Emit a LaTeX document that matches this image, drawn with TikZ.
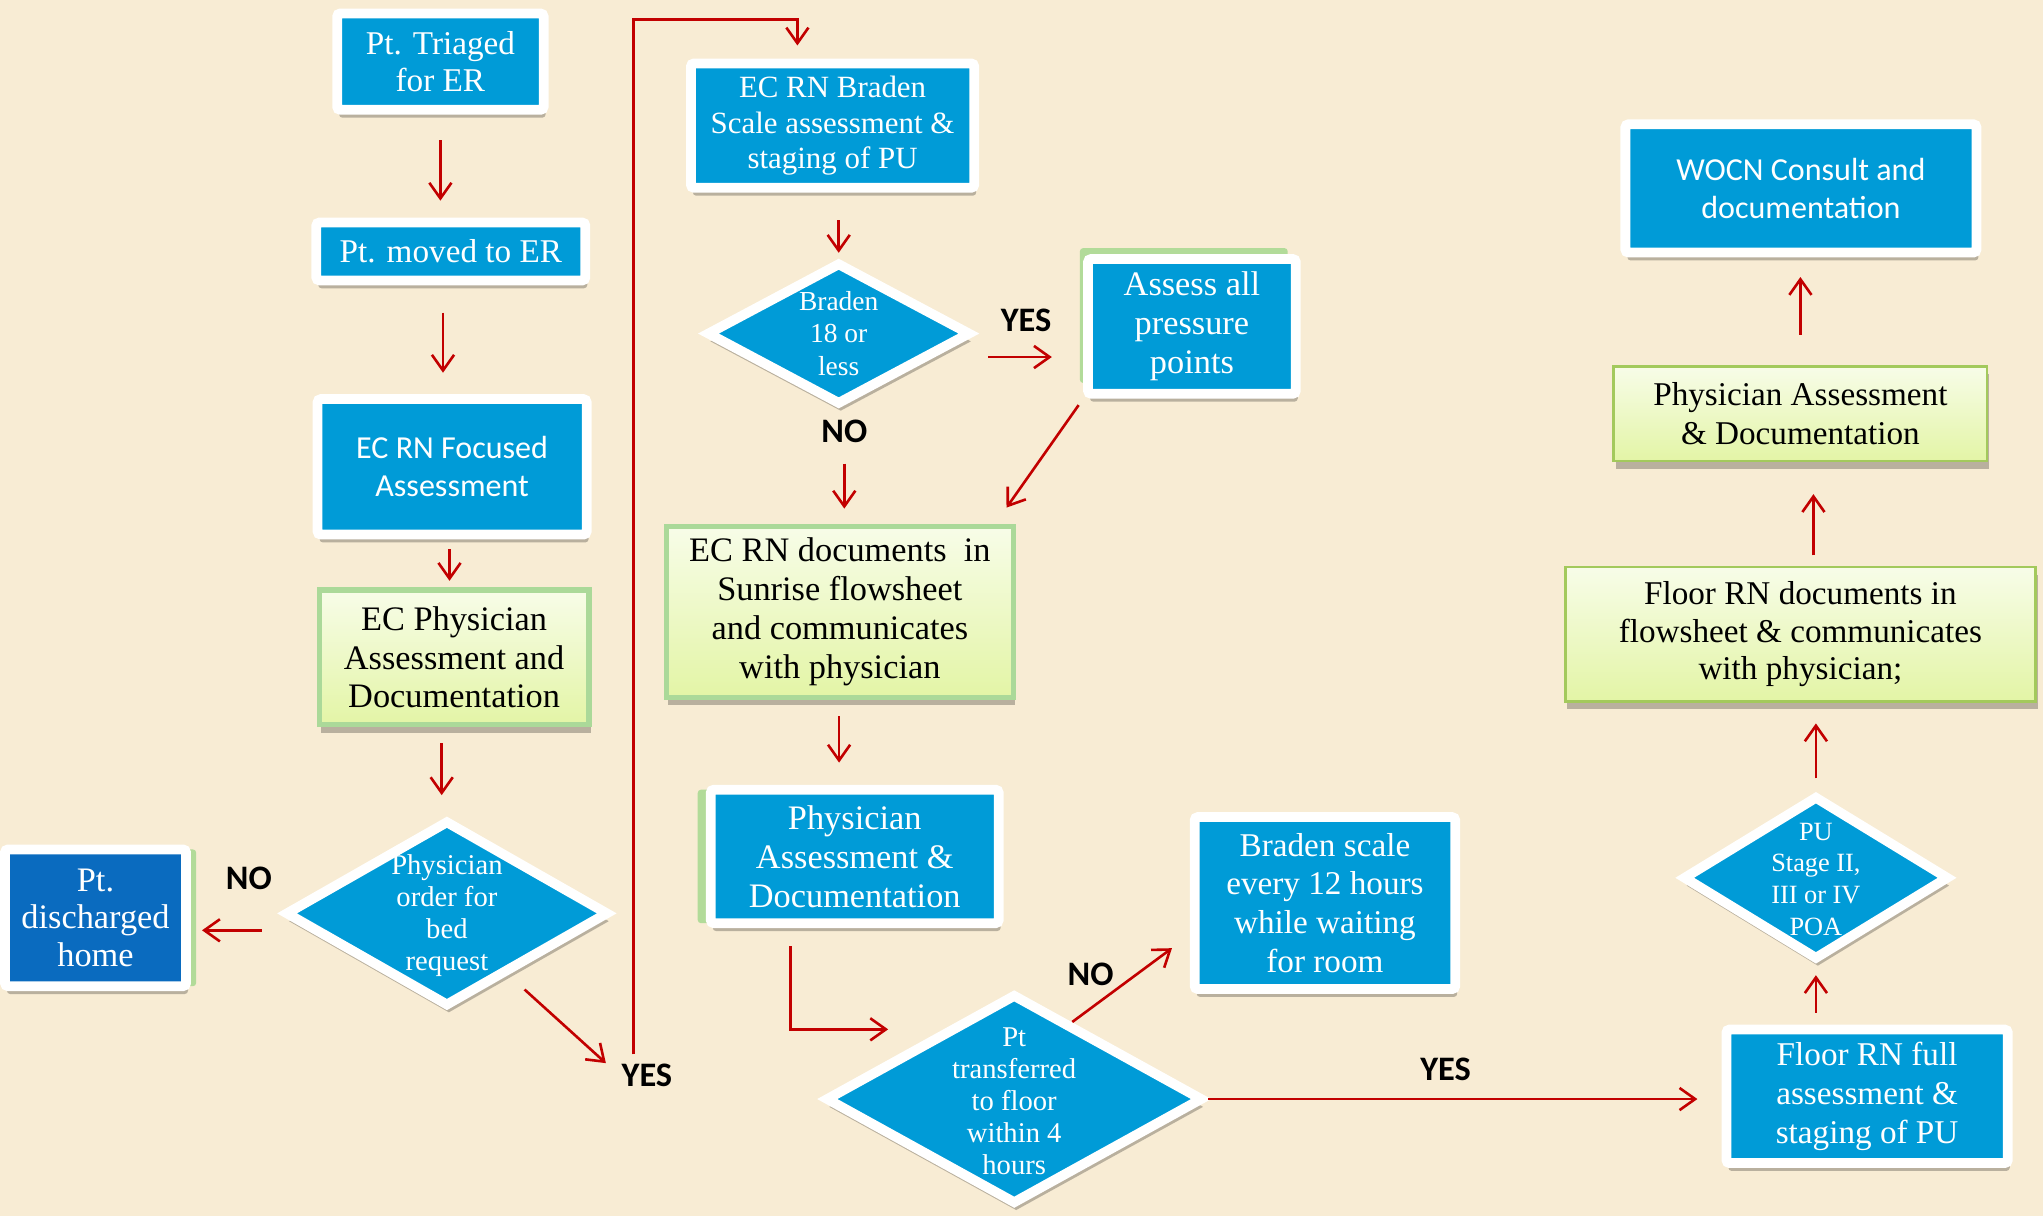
\documentclass[tikz,border=0pt]{standalone}
\usepackage{fontspec}
\setmainfont{Liberation Serif}
\newfontfamily\calibfont{Carlito}
\usepackage{xcolor}
\definecolor{parchment}{rgb}{0.973, 0.925, 0.831}
\definecolor{boxBlue}{rgb}{0.0, 0.608, 0.843}
\definecolor{deepBlue}{rgb}{0.04, 0.42, 0.75}
\definecolor{arrowRed}{rgb}{0.76, 0.0, 0.0}
\definecolor{mintGreen}{rgb}{0.67, 0.85, 0.60}
\definecolor{oliveGreen}{rgb}{0.64, 0.79, 0.36}
\definecolor{backGreen}{rgb}{0.70, 0.86, 0.60}
\definecolor{paleGreen}{rgb}{0.97, 0.99, 0.91}
\definecolor{limeGreen}{rgb}{0.89, 0.96, 0.65}
\usetikzlibrary{shapes.geometric, shadows, arrows.meta}

\tikzset{
  >={Straight Barb[length=2.4mm, width=3.4mm]},
  flow/.style={->, draw=arrowRed, line width=0.4mm},
  greyshadow/.style={general shadow={fill=black, opacity=0.25, shadow xshift=0.3mm, shadow yshift=-1.2mm}},
  sidegreen/.style 2 args={general shadow={fill=backGreen, shadow xshift=#1, shadow yshift=#2}},
  bluebox/.style={draw=white, line width=1.5mm, fill=boxBlue, text=white, align=center,
    inner sep=0pt, rounded corners=0.5mm, greyshadow},
  greenbox/.style={draw=mintGreen, line width=0.8mm, top color=paleGreen, bottom color=limeGreen,
    align=center, inner sep=0pt, greyshadow},
  limebox/.style={greenbox, draw=oliveGreen, line width=0.4mm},
  decision/.style={diamond, draw=white, line width=1.5mm, fill=boxBlue, inner sep=0pt, greyshadow},
  decisiontext/.style={text=white, align=center, inner sep=0pt},
  answer/.style={font=\calibfont\bfseries\fontsize{15}{15}\selectfont, inner sep=1pt}
}

\begin{document}
\begin{tikzpicture}[x=0.2mm, y=-0.2mm]
	\useasboundingbox (0,0) rectangle (1568,933);
	\fill[parchment] (0,0) rectangle (1568,933);

	% ER arrival column
	\node[bluebox, minimum width=31.7mm, minimum height=14.8mm, font=\fontsize{14.5}{16.5}\selectfont] (triaged) at (338,47.3) {Pt. Triaged\\for ER};
	\node[bluebox, minimum width=41.3mm, minimum height=8.9mm, font=\fontsize{14.5}{16.5}\selectfont] (moved) at (346,193) {Pt. moved to ER};
	\node[bluebox, minimum width=41.3mm, minimum height=20.8mm, font=\calibfont\fontsize{14}{16.5}\selectfont] (focused) at (347,358.3) {EC RN Focused\\Assessment};
	\node[greenbox, minimum width=41.4mm, minimum height=20.7mm, font=\fontsize{15}{16.8}\selectfont] (ecphys) at (348.5,504.5) {EC Physician\\Assessment and\\Documentation};
	\node[decision, minimum width=49.7mm, minimum height=28.6mm] (order) at (343,701) {};
	\node[decisiontext, font=\fontsize{12.5}{14}\selectfont] (ordertxt) at ([yshift=-0.4mm]order.center) {Physician\\order for\\bed\\request};
	\node[bluebox, fill=deepBlue, sidegreen={1.55mm}{0mm}, minimum width=27.8mm, minimum height=21mm, font=\fontsize{15}{16.5}\selectfont] (discharged) at (73.3,704.4) {Pt.\\discharged\\home};

	% answers
	\node[answer] (no1) at (191,674.4) {NO};
	\node[answer] (yes1) at (496.5,825) {YES};
	\node[answer] (yes2) at (787.5,246) {YES};
	\node[answer] (no2) at (648,331) {NO};
	\node[answer] (no3) at (837,747.7) {NO};
	\node[answer] (yes3) at (1109.5,821) {YES};

	% Braden column
	\node[bluebox, minimum width=43.5mm, minimum height=19.1mm, font=\fontsize{13.5}{15.4}\selectfont] (braden) at (639,96.4) {EC RN Braden\\Scale assessment \&\\staging of PU};
	\node[decision, minimum width=40.6mm, minimum height=21.9mm] (bradendia) at (643.7,256) {};
	\node[decisiontext, font=\fontsize{12}{14.2}\selectfont] (bradentxt) at (bradendia.center) {Braden\\18 or\\less};
	\node[bluebox, sidegreen={-1.25mm}{1.67mm}, minimum width=31.9mm, minimum height=20.7mm, font=\fontsize{15}{17}\selectfont] (assess) at (914.8,250.5) {Assess all\\pressure\\points};
	\node[greenbox, minimum width=53.3mm, minimum height=26.3mm, font=\fontsize{15}{17}\selectfont] (ecrndocs) at (644.6,469.6) {EC RN documents\ \ in\\Sunrise flowsheet\\and communicates\\with physician};
	\node[bluebox, sidegreen={-2mm}{0mm}, minimum width=44.2mm, minimum height=20.5mm, font=\fontsize{15}{17}\selectfont] (physassess) at (656,657.3) {Physician\\Assessment \&\\Documentation};
	\node[bluebox, minimum width=40mm, minimum height=26.4mm, font=\fontsize{14.5}{17}\selectfont] (bradenscale) at (1016.9,693.1) {Braden scale\\every 12 hours\\while waiting\\for room};
	\node[decision, minimum width=58mm, minimum height=32.3mm] (transferred) at (778.4,843.5) {};
	\node[decisiontext, font=\fontsize{12.5}{14}\selectfont] (transtxt) at ([yshift=-0.4mm]transferred.center) {Pt\\transferred\\to floor\\within 4\\hours};

	% Floor column
	\node[bluebox, minimum width=43.2mm, minimum height=20.5mm, font=\fontsize{14.5}{17}\selectfont] (floorfull) at (1433,841.4) {Floor RN full\\assessment \&\\staging of PU};
	\node[decision, minimum width=40.9mm, minimum height=25.2mm] (pu) at (1393.7,673.7) {};
	\node[decisiontext, font=\fontsize{11.5}{13.8}\selectfont] (putxt) at ([yshift=-0.2mm]pu.center) {PU\\Stage II,\\III or IV\\POA};
	\node[limebox, minimum width=72.2mm, minimum height=20.6mm, font=\fontsize{14.5}{16.5}\selectfont] (floordocs) at (1381.8,486.7) {Floor RN documents in\\flowsheet \& communicates\\with physician;};
	\node[limebox, minimum width=57.3mm, minimum height=14.5mm, font=\fontsize{14.5}{17}\selectfont] (physassess2) at (1381.8,317.5) {Physician Assessment\\\& Documentation};
	\node[bluebox, minimum width=53.9mm, minimum height=19.7mm, font=\calibfont\fontsize{14}{16.5}\selectfont] (wocn) at (1382.2,144.6) {WOCN Consult and\\documentation};

	% Draw flow, ER column
	\draw[flow, shorten <=3.9mm, shorten >=2.6mm] (triaged.south) -- (triaged.south |- moved.north);
	\draw[flow, shorten <=4.2mm, shorten >=3.3mm] ([xshift=-1.2mm]moved.south) -- ([xshift=-1.2mm]moved.south |- focused.north);
	\draw[flow, shorten <=1.5mm, shorten >=1mm] ([xshift=-0.4mm]focused.south) -- ([xshift=-0.4mm]focused.south |- ecphys.north);
	\draw[flow, shorten <=2.4mm, shorten >=3.1mm] ([xshift=-0.8mm]ecphys.south -| order.north) -- ([xshift=-0.8mm]order.north);
	\draw[flow, shorten <=2.8mm, shorten >=1.7mm] ([yshift=-2.6mm]order.west) -- ([yshift=-2.6mm]order.west -| discharged.east);
	\draw[flow, shorten <=3.3mm, shorten >=2.7mm] (order.-45) -- (yes1.west);
	\draw[flow, shorten <=1mm, shorten >=2mm] ([xshift=2.2mm]yes1.north west) |- ([xshift=-5.4mm, yshift=6mm]braden.north) -- ([xshift=-5.4mm]braden.north);

	% Draw flow, Braden column
	\draw[flow, shorten <=4.2mm, shorten >=0.7mm] (bradendia.north |- braden.south) -- (bradendia.north);
	\draw[flow, shorten <=1.9mm, shorten >=4.8mm] ([yshift=-3.6mm]bradendia.east) -- ([yshift=-3.6mm]bradendia.east -| assess.west);
	\draw[flow, shorten <=2.8mm, shorten >=2.3mm] (no2.south) -- (no2.south |- ecrndocs.north);
	\draw[flow, shorten <=1.2mm, shorten >=3mm] (assess.south west) -- ([xshift=-3.2mm]ecrndocs.north east);
	\draw[flow, shorten <=2.5mm, shorten >=3.4mm] ([xshift=-2.4mm]ecrndocs.south -| physassess.north) -- ([xshift=-2.4mm]physassess.north);
	\draw[flow, shorten <=2.8mm] ([xshift=-9.9mm]physassess.south) |- ([xshift=10.4mm, yshift=10.7mm]transferred.west);
	\draw[flow, shorten >=3.4mm] (transferred.53) -- ([yshift=-4.9mm]bradenscale.west);
	\draw[flow, shorten >=3.7mm] (transferred.east) -- (transferred.east -| floorfull.west);

	% Draw flow, Floor column
	\draw[flow, shorten <=1.8mm, shorten >=1.6mm] (pu.south |- floorfull.north) -- (pu.south);
	\draw[flow, shorten <=1.9mm, shorten >=3.2mm] (pu.north) -- (pu.north |- floordocs.south);
	\draw[flow, shorten <=1.6mm, shorten >=4.9mm] ([xshift=2mm]floordocs.north) -- ([xshift=2mm]floordocs.north |- physassess2.south);
	\draw[flow, shorten <=4.7mm, shorten >=3mm] (physassess2.north) -- (physassess2.north |- wocn.south);
\end{tikzpicture}
\end{document}
